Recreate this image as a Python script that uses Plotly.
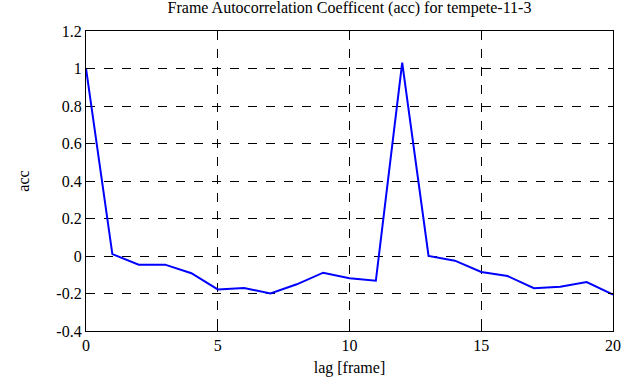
import plotly.graph_objects as go

lags = list(range(21))
acc = [1.0, 0.01, -0.046, -0.046, -0.092, -0.178, -0.171, -0.2, -0.151, -0.089, -0.119,
       -0.132, 1.031, 0.0, -0.025, -0.085, -0.107, -0.172, -0.164, -0.139, -0.206]

x_ticks = [0, 5, 10, 15, 20]
y_ticks = [-0.4, -0.2, 0, 0.2, 0.4, 0.6, 0.8, 1, 1.2]
y_labels = ["-0.4", "-0.2", "0", "0.2", "0.4", "0.6", "0.8", "1", "1.2"]

font = "Times New Roman, Liberation Serif, serif"

fig = go.Figure(go.Scatter(x=lags, y=acc, mode="lines",
                           line=dict(color="#0000ff", width=2)))

axis_common = dict(showline=True, linecolor="black", linewidth=1.3, mirror="ticks",
                   ticks="inside", ticklen=5, tickcolor="black",
                   showgrid=True, gridcolor="black", griddash="dash", gridwidth=1,
                   zeroline=False, tickfont=dict(family=font, size=16, color="black"))

fig.update_layout(
    width=635, height=387,
    margin=dict(l=86, r=22, t=31, b=56),
    paper_bgcolor="white", plot_bgcolor="white",
    font=dict(family=font, size=16, color="black"),
    showlegend=False,
    title=dict(text="Frame Autocorrelation Coefficent (acc) for tempete-11-3",
               x=0.5, xref="paper", xanchor="center", y=1, yref="container", yanchor="top",
               pad=dict(t=2),
               font=dict(family=font, size=16, color="black")),
    xaxis=dict(range=[0, 20], tickvals=x_ticks, ticktext=[str(v) for v in x_ticks],
               title=dict(text="lag [frame]", font=dict(family=font, size=16, color="black"), standoff=8),
               **axis_common),
    yaxis=dict(range=[-0.4, 1.2], tickvals=y_ticks, ticktext=y_labels,
               title=dict(text="acc", font=dict(family=font, size=16, color="black"), standoff=22),
               **axis_common),
)

fig.write_html("out.html", config={"displayModeBar": False},
               post_script="document.body.style.margin='0';")
